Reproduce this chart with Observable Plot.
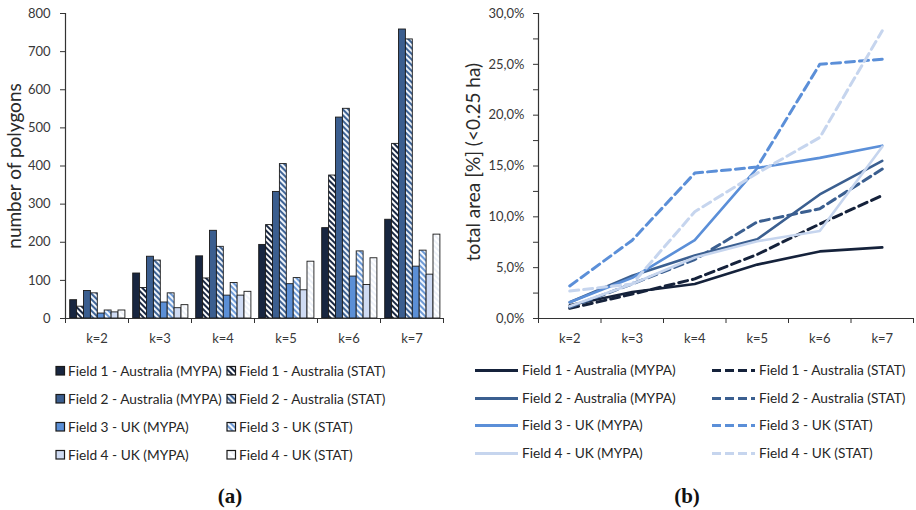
<!DOCTYPE html>
<html>
<head>
<meta charset="utf-8">
<script src="https://cdn.jsdelivr.net/npm/d3@7"></script>
<script src="https://cdn.jsdelivr.net/npm/@observablehq/plot@0.6"></script>
<style>
  html, body { margin: 0; padding: 0; background: #fff; }
  #page { position: relative; width: 916px; height: 510px; overflow: hidden; background: #fff; font-family: Lato, "Open Sans", sans-serif; color: #333; }
  .panel { position: absolute; top: 0; }
  .leg { position: absolute; font-size: 13.7px; white-space: nowrap; line-height: 14px; color: #262626; }
  .leg svg { position: absolute; left: 0; top: 0; }
  .cap { position: absolute; top: 484px; font-family: "Liberation Serif", "DejaVu Serif", serif; font-weight: bold; font-size: 21px; color: #111; transform: translateX(-50%); }
</style>
</head>
<body>
<svg width="0" height="0" style="position:absolute">
  <defs>
    <pattern id="hatch1" width="4" height="4" patternUnits="userSpaceOnUse" patternTransform="rotate(-45)">
      <rect width="4" height="4" fill="#ffffff"/><rect width="2" height="4" fill="#1b2944"/>
    </pattern>
    <pattern id="hatch2" width="4" height="4" patternUnits="userSpaceOnUse" patternTransform="rotate(-45)">
      <rect width="4" height="4" fill="#eef3fa"/><rect width="2" height="4" fill="#3f6496"/>
    </pattern>
    <pattern id="hatch3" width="4" height="4" patternUnits="userSpaceOnUse" patternTransform="rotate(-45)">
      <rect width="4" height="4" fill="#f3f7fd"/><rect width="2" height="4" fill="#6d9ad6"/>
    </pattern>
    <pattern id="hatch4" width="4" height="4" patternUnits="userSpaceOnUse" patternTransform="rotate(-45)">
      <rect width="4" height="4" fill="#ffffff"/><rect width="2" height="4" fill="#eef2f9"/>
    </pattern>
  </defs>
</svg>
<div id="page">
  <div id="left" class="panel" style="left:0px"></div>
  <div id="right" class="panel" style="left:460px"></div>
  <div id="legA"></div>
  <div id="legB"></div>
  <div class="cap" style="left:230px">(a)</div>
  <div class="cap" style="left:687px">(b)</div>
</div>
<script>
// ---------- data ----------
const ks = ["k=2", "k=3", "k=4", "k=5", "k=6", "k=7"];
const seriesNames = [
  "Field 1 - Australia (MYPA)", "Field 1 - Australia (STAT)",
  "Field 2 - Australia (MYPA)", "Field 2 - Australia (STAT)",
  "Field 3 - UK (MYPA)", "Field 3 - UK (STAT)",
  "Field 4 - UK (MYPA)", "Field 4 - UK (STAT)"
];

// (a) number of polygons
const f1Mypa = [48, 118, 163, 193, 237, 259];
const f1Stat = [31, 80, 105, 245, 375, 458];
const f2Mypa = [72, 162, 230, 332, 527, 758];
const f2Stat = [66, 152, 188, 405, 550, 732];
const f3Mypa = [13, 42, 60, 90, 110, 136];
const f3Stat = [21, 66, 93, 106, 176, 178];
const f4Mypa = [16, 27, 60, 74, 88, 115];
const f4Stat = [21, 35, 70, 149, 158, 220];

// (b) total area [%] (<0.25 ha)
const a1Mypa = [1.3, 2.6, 3.4, 5.3, 6.6, 7.0];
const a1Stat = [1.0, 2.4, 3.9, 6.3, 9.3, 12.1];
const a2Mypa = [1.6, 4.2, 6.2, 7.8, 12.2, 15.5];
const a2Stat = [1.1, 3.4, 5.8, 9.5, 10.8, 14.7];
const a3Mypa = [1.6, 4.0, 7.7, 14.8, 15.8, 17.0];
const a3Stat = [3.2, 7.7, 14.3, 14.9, 25.0, 25.5];
const a4Mypa = [1.2, 3.4, 6.0, 7.6, 8.6, 16.9];
const a4Stat = [2.7, 3.4, 10.5, 14.3, 17.8, 28.3];

const yTicksA = [0, 100, 200, 300, 400, 500, 600, 700, 800];
const yTicksB = [0, 5, 10, 15, 20, 25, 30];
const yMinorB = [0, 2.5, 5, 7.5, 10, 12.5, 15, 17.5, 20, 22.5, 25, 27.5, 30];

// ---------- styles ----------
const barFills = ["#182640", "url(#hatch1)", "#3b5e8f", "url(#hatch2)", "#5b8fd6", "url(#hatch3)", "#cfdbf3", "url(#hatch4)"];
const lineColors = ["#15223b", "#15223b", "#3b5f90", "#3b5f90", "#5b8fd8", "#5b8fd8", "#c6d5ee", "#c6d5ee"];
const dashed = [false, true, false, true, false, true, false, true];

const barSeries = [f1Mypa, f1Stat, f2Mypa, f2Stat, f3Mypa, f3Stat, f4Mypa, f4Stat];
const areaSeries = [a1Mypa, a1Stat, a2Mypa, a2Stat, a3Mypa, a3Stat, a4Mypa, a4Stat];

const axisColor = "#333";
const fontStyle = {fontFamily: "Lato, 'Open Sans', sans-serif", fontSize: "13px", color: "#383838", background: "transparent", overflow: "visible"};

// ---------- (a) bar chart ----------
{
  const W = 460, H = 345, mL = 65, mR = 17, mT = 13, mB = 27;
  const band = (W - mL - mR) / ks.length;
  const bw = 6.9;
  const padL = (band - bw * 8) / 2 + 0.8;
  const marks = [];
  barSeries.forEach((vals, i) => {
    marks.push(Plot.barY(vals, {
      x: ks, y: vals, fill: barFills[i],
      stroke: "#1a1a1a", strokeWidth: 0.9,
      insetLeft: padL + i * bw,
      insetRight: band - padL - (i + 1) * bw
    }));
  });
  marks.push(
    Plot.ruleY([0], {stroke: axisColor, strokeWidth: 1.2}),
    Plot.ruleX([ks[0]], {dx: -band / 2, stroke: axisColor, strokeWidth: 1.2}),
    Plot.ruleX(ks, {x: d => d, y1: 0, y2: 0, insetBottom: -5, dx: -band / 2, stroke: axisColor}),
    Plot.ruleX([ks[ks.length - 1]], {y1: 0, y2: 0, insetBottom: -5, dx: band / 2, stroke: axisColor}),
    Plot.axisY({ticks: yTicksA, tickSize: 5, tickPadding: 10, stroke: axisColor, label: null}),
    Plot.axisX({tickSize: 0, tickPadding: 15, label: null}),
    Plot.text(["number of polygons"], {frameAnchor: "left", rotate: -90, dx: -51, textAnchor: "middle", fontSize: 19, fill: "#2a2a2a"})
  );
  const chart = Plot.plot({
    width: W, height: H, marginLeft: mL, marginRight: mR, marginTop: mT, marginBottom: mB,
    style: fontStyle,
    x: {domain: ks, padding: 0, round: false},
    y: {domain: [0, 800]},
    marks
  });
  document.getElementById("left").appendChild(chart);
}

// ---------- (b) line chart ----------
{
  const W = 456, H = 345, mL = 78, mR = 3, mT = 13, mB = 27;
  const step = (W - mL - mR) / ks.length;
  const fmt = d => d.toFixed(1).replace(".", ",") + "%";
  const marks = [
    Plot.ruleY([0], {stroke: axisColor, strokeWidth: 1.2}),
    Plot.ruleX([ks[0]], {dx: -step / 2, stroke: axisColor, strokeWidth: 1.2}),
    Plot.ruleX(ks, {x: d => d, y1: 0, y2: 0, insetBottom: -5, dx: -step / 2, stroke: axisColor}),
    Plot.ruleX([ks[ks.length - 1]], {y1: 0, y2: 0, insetBottom: -5, dx: step / 2, stroke: axisColor}),
    Plot.axisY({ticks: yMinorB, tickSize: 5, tickPadding: 9, stroke: axisColor, label: null,
      tickFormat: d => (yTicksB.includes(d) ? fmt(d) : "")}),
    Plot.axisX({tickSize: 0, tickPadding: 15, label: null}),
    Plot.text(["total area [%] (<0.25 ha)"], {frameAnchor: "left", rotate: -90, dx: -65, dy: -4, textAnchor: "middle", fontSize: 19, fill: "#2a2a2a"})
  ];
  areaSeries.forEach((vals, i) => {
    marks.push(Plot.line(vals, {
      x: ks, y: vals, stroke: lineColors[i],
      strokeWidth: dashed[i] ? 3 : 2.6,
      strokeDasharray: dashed[i] ? "9,5" : null,
      strokeLinejoin: "round"
    }));
  });
  const chart = Plot.plot({
    width: W, height: H, marginLeft: mL, marginRight: mR, marginTop: mT, marginBottom: mB,
    style: fontStyle,
    x: {type: "point", domain: ks, padding: 0.5, round: false},
    y: {domain: [0, 30]},
    marks
  });
  document.getElementById("right").appendChild(chart);
}

// ---------- legends ----------
{
  const legA = document.getElementById("legA");
  const rowsY = [371, 399, 427, 455];
  seriesNames.forEach((name, i) => {
    const col = i % 2, row = Math.floor(i / 2);
    const left = col === 0 ? 55 : 226;
    const div = document.createElement("div");
    div.className = "leg";
    div.style.left = left + "px";
    div.style.top = (rowsY[row] - 7) + "px";
    div.style.paddingLeft = "13px";
    div.innerHTML = `<svg width="11" height="14"><rect x="1" y="2.5" width="8.5" height="8.5" fill="${barFills[i]}" stroke="#1a1a1a" stroke-width="1.2"/></svg>${name}`;
    legA.appendChild(div);
  });
  const legB = document.getElementById("legB");
  const rowsYB = [370, 398, 425, 453];
  seriesNames.forEach((name, i) => {
    const col = i % 2, row = Math.floor(i / 2);
    const left = col === 0 ? 475 : 712;
    const div = document.createElement("div");
    div.className = "leg";
    div.style.left = left + "px";
    div.style.top = (rowsYB[row] - 7) + "px";
    div.style.paddingLeft = "47px";
    const dash = dashed[i] ? `stroke-dasharray="9,4"` : "";
    div.innerHTML = `<svg width="46" height="14"><line x1="0" x2="43" y1="7.5" y2="7.5" stroke="${lineColors[i]}" stroke-width="3.2" ${dash}/></svg>${name}`;
    legB.appendChild(div);
  });
}
</script>
</body>
</html>
